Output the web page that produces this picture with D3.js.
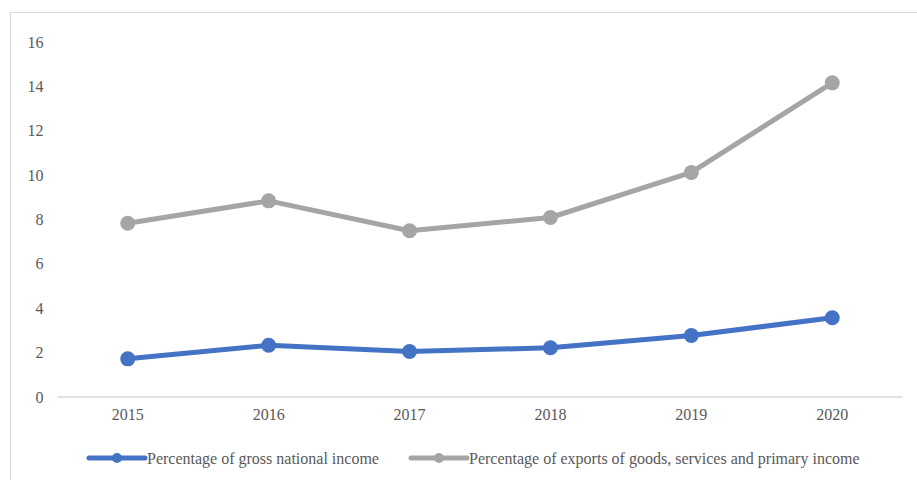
<!DOCTYPE html>
<html>
<head>
<meta charset="utf-8">
<script src="https://cdn.jsdelivr.net/npm/d3@7"></script>
<style>
  html, body { margin: 0; padding: 0; background: #fff; }
  svg { display: block; }
  text { font-family: "Liberation Serif", "Times New Roman", serif; fill: #595959; }
</style>
</head>
<body>
<svg id="chart" width="917" height="480"></svg>
<script>
const years = ["2015", "2016", "2017", "2018", "2019", "2020"];
const gniValues = [1.72, 2.33, 2.05, 2.22, 2.77, 3.57];
const exportValues = [7.83, 8.84, 7.49, 8.09, 10.12, 14.16];
const yTicks = [0, 2, 4, 6, 8, 10, 12, 14, 16];
const seriesNames = ["Percentage of gross national income", "Percentage of exports of goods, services and primary income"];
const seriesColors = ["#4472C4", "#A5A5A5"];

const svg = d3.select("#chart");

// chart border
svg.append("rect")
  .attr("x", 10.5).attr("y", 12.5)
  .attr("width", 920).attr("height", 480)
  .attr("fill", "none").attr("stroke", "#D9D9D9").attr("stroke-width", 1);

const x = d3.scaleBand().domain(years).range([57.3, 902.7]);
const y = d3.scaleLinear().domain([0, 16]).range([397, 42]);

// y labels
svg.append("g").selectAll("text").data(yTicks).join("text")
  .attr("x", 43.5).attr("y", d => y(d)).attr("dy", "0.35em")
  .attr("text-anchor", "end").attr("font-size", 16).text(d => d);

// x axis line
svg.append("line")
  .attr("x1", x.range()[0]).attr("x2", x.range()[1])
  .attr("y1", y(0)).attr("y2", y(0))
  .attr("stroke", "#D9D9D9").attr("stroke-width", 1.5);

// x labels
svg.append("g").selectAll("text").data(years).join("text")
  .attr("x", d => x(d) + x.bandwidth() / 2).attr("y", 414).attr("dy", "0.35em")
  .attr("text-anchor", "middle").attr("font-size", 16).text(d => d);

const series = [gniValues, exportValues];
const line = d3.line()
  .x((d, i) => x(years[i]) + x.bandwidth() / 2)
  .y(d => y(d));

series.forEach((vals, si) => {
  svg.append("path").datum(vals)
    .attr("d", line).attr("fill", "none")
    .attr("stroke", seriesColors[si]).attr("stroke-width", 5)
    .attr("stroke-linejoin", "round").attr("stroke-linecap", "round");
  svg.append("g").selectAll("circle").data(vals).join("circle")
    .attr("cx", (d, i) => x(years[i]) + x.bandwidth() / 2)
    .attr("cy", d => y(d)).attr("r", 7.5)
    .attr("fill", seriesColors[si]);
});

// legend
const legendX = [89, 411];
const ly = 458;
seriesNames.forEach((name, i) => {
  const g = svg.append("g");
  g.append("line").attr("x1", legendX[i]).attr("x2", legendX[i] + 56)
    .attr("y1", ly).attr("y2", ly)
    .attr("stroke", seriesColors[i]).attr("stroke-width", 5).attr("stroke-linecap", "round");
  g.append("circle").attr("cx", legendX[i] + 28).attr("cy", ly).attr("r", 5)
    .attr("fill", seriesColors[i]);
  g.append("text").attr("x", legendX[i] + 58).attr("y", ly).attr("dy", "0.35em")
    .attr("font-size", 16).text(name);
});
</script>
</body>
</html>
